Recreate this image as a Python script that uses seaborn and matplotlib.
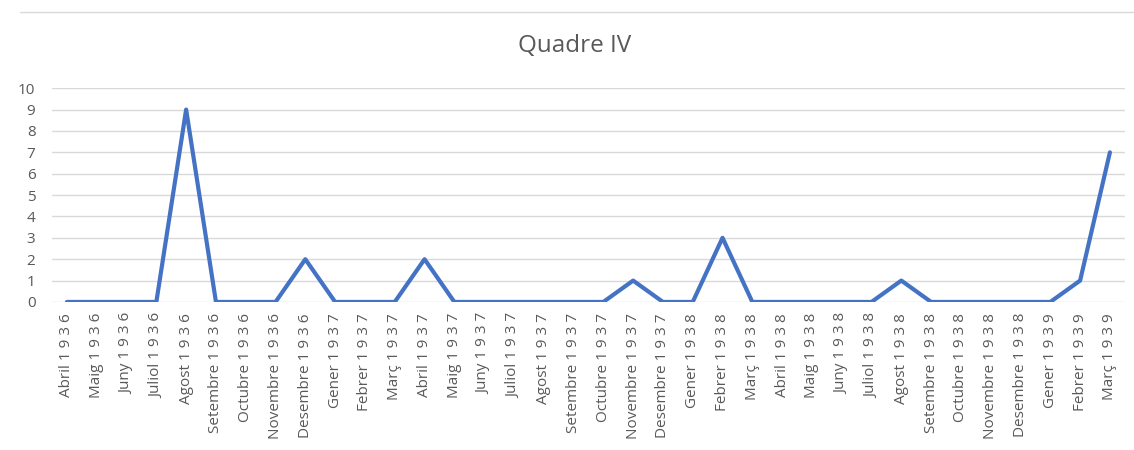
#!/usr/bin/env python3
"""Quadre IV: monthly counts, April 1936 to March 1939."""

import matplotlib

matplotlib.use("Agg")
import matplotlib.pyplot as plt
import pandas as pd
import seaborn as sns
from matplotlib.lines import Line2D

MONTHS = [
    "Abril", "Maig", "Juny", "Juliol", "Agost", "Setembre",
    "Octubre", "Novembre", "Desembre", "Gener", "Febrer", "Març",
]
YEARS = ["1 9 3 6"] * 9 + ["1 9 3 7"] * 12 + ["1 9 3 8"] * 12 + ["1 9 3 9"] * 3
MONTH_SEQ = (MONTHS * 3)[:36]
LABELS = [f"{m} {y}" for m, y in zip(MONTH_SEQ, YEARS)]

VALUES = [
    0, 0, 0, 0, 9, 0, 0, 0, 2,          # Abr-Des 1936
    0, 0, 0, 2, 0, 0, 0, 0, 0, 0, 1, 0,  # 1937
    0, 3, 0, 0, 0, 0, 0, 1, 0, 0, 0, 0,  # 1938
    0, 1, 7,                             # Gen-Mar 1939
]

LINE_COLOR = "#4472C4"
GRID_COLOR = "#D9D9D9"
TEXT_COLOR = "#595959"


def main() -> None:
    sns.set_theme(style="white")
    plt.rcParams["font.family"] = ["Open Sans", "DejaVu Sans"]

    df = pd.DataFrame({"mes": LABELS, "valor": VALUES})
    df["pos"] = range(len(df))

    fig = plt.figure(figsize=(11.34, 4.5), dpi=100)
    ax = fig.add_axes([0.0459, 0.329, 0.946, 0.475])

    sns.lineplot(data=df, x="pos", y="valor", color=LINE_COLOR,
                 linewidth=3, ax=ax, sort=False)

    ax.set_xlim(-0.5, len(df) - 0.5)
    ax.set_ylim(0, 10)
    ax.set_yticks(range(0, 11))
    ax.set_xticks(df["pos"])
    ax.set_xticklabels(df["mes"], rotation=90, fontsize=11, color=TEXT_COLOR)
    ax.tick_params(axis="y", labelsize=11, labelcolor=TEXT_COLOR, length=0, pad=12)
    ax.tick_params(axis="x", length=0, pad=8)
    ax.grid(axis="y", color=GRID_COLOR, linewidth=1)
    ax.set_axisbelow(True)
    for side in ("top", "right", "left", "bottom"):
        ax.spines[side].set_visible(False)
    ax.set_xlabel("")
    ax.set_ylabel("")

    fig.text(0.507, 0.898, "Quadre IV", ha="center", va="center",
             fontsize=17.5, color=TEXT_COLOR)
    fig.add_artist(Line2D([0.018, 1.0], [0.973, 0.973],
                          transform=fig.transFigure, color=GRID_COLOR, linewidth=1))

    fig.savefig("out.png", dpi=100, facecolor="white")
    plt.close(fig)


if __name__ == "__main__":
    main()
